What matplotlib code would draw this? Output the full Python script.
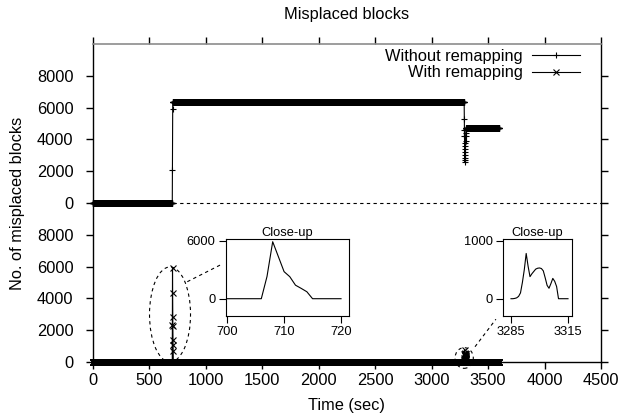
import numpy as np
import matplotlib
matplotlib.use('Agg')
import matplotlib.pyplot as plt
from matplotlib.patches import Ellipse

plt.rcParams['font.family'] = ['Liberation Sans', 'DejaVu Sans']

# ---------------- data ----------------
t_start, t_end = 0, 3600
# "Without remapping" (upper panel): step levels with two transitions
wo_level_before = 0
wo_rise_t = [707, 708]
wo_rise_v = [2100, 5900]
wo_level_mid = 6350
wo_drop_t = [3290, 3291, 3292, 3293, 3294, 3295, 3296, 3297, 3298, 3299,
             3300, 3301, 3302, 3303, 3304, 3305]
wo_drop_v = [5300, 4600, 4200, 3800, 3400, 3000, 2700, 2550, 2800, 3200,
             3600, 3900, 4200, 4400, 4600, 4650]
wo_level_after = 4700

# "With remapping" (lower panel): zero except two short bursts
w_level = 0
w_burst1_t = [706, 707, 708, 709, 710, 711, 712, 713, 714, 715]
w_burst1_v = [0, 2300, 5900, 4350, 2800, 2280, 1400, 1070, 720, 0]
w_burst2_t = list(range(3285, 3316))
w_burst2_v = [0, 0, 5, 15, 40, 100, 280, 500, 780, 560,
              380, 430, 470, 510, 525, 530, 520, 480, 360, 230,
              180, 260, 350, 300, 210, 0, 0, 0, 0, 0, 0]

upper_offset = 10000
x_ticks = [0, 500, 1000, 1500, 2000, 2500, 3000, 3500, 4000, 4500]
panel_ticks = [0, 2000, 4000, 6000, 8000]

# per-second series
t = np.arange(t_start, t_end + 1)
wo = np.full(t.shape, wo_level_mid, dtype=float)
wo[t < wo_rise_t[0]] = wo_level_before
wo[t > wo_drop_t[-1]] = wo_level_after
for tt, vv in zip(wo_rise_t, wo_rise_v):
    wo[t == tt] = vv
for tt, vv in zip(wo_drop_t, wo_drop_v):
    wo[t == tt] = vv

w = np.full(t.shape, w_level, dtype=float)
for tt, vv in zip(w_burst1_t + w_burst2_t, w_burst1_v + w_burst2_v):
    w[t == tt] = vv

# ---------------- figure ----------------
W, H = 621, 419
fig = plt.figure(figsize=(W / 100, H / 100), dpi=100)

def px_rect(l, r, top, bot):
    return [l / W, (H - bot) / H, (r - l) / W, (bot - top) / H]

FS = 11.8
ax = fig.add_axes(px_rect(92.5, 601, 44, 362))
ax.set_xlim(0, 4500)
ax.set_ylim(0, 20000)

dash = (0, (3, 3))
ax.axhline(upper_offset, color='black', lw=0.8, ls=dash, zorder=1)

ax.plot(t, wo + upper_offset, color='black', lw=0.8, marker='+', ms=4.5,
        mew=0.8, label='Without remapping', clip_on=False, zorder=3)
ax.plot(t, w, color='black', lw=0.8, marker='x', ms=4.3, mew=0.8,
        label='With remapping', clip_on=False, zorder=3)

ax.set_xticks(x_ticks)
ax.set_xticklabels([str(v) for v in x_ticks])
yt = panel_ticks + [v + upper_offset for v in panel_ticks]
ax.set_yticks(yt)
ax.set_yticklabels([str(v) for v in panel_ticks] * 2)
ax.tick_params(axis='both', direction='out', length=5, width=1, labelsize=FS,
               top=True, right=True, color='black')
ax.tick_params(axis='y', pad=8.8)
ax.tick_params(axis='x', pad=3)
for s in ['left', 'right', 'bottom']:
    ax.spines[s].set_linewidth(1)
    ax.spines[s].set_color('black')
ax.spines['top'].set_color('0.55')
ax.spines['top'].set_linewidth(1.2)

ax.set_xlabel('Time (sec)', fontsize=FS)
ax.xaxis.set_label_coords(0.5, -0.113)
ax.set_ylabel('No. of misplaced blocks', fontsize=FS)
ax.yaxis.set_label_coords(-0.133, 0.5)
ax.set_title('Misplaced blocks', fontsize=FS, pad=18)

leg = ax.legend(loc='upper right', bbox_to_anchor=(0.9587, 0.985), frameon=False,
                markerfirst=False, handlelength=2.9, handletextpad=0.6,
                borderpad=0, borderaxespad=0, labelspacing=0.1, fontsize=FS,
                numpoints=1)
for h in leg.legend_handles:
    h.set_markersize(5)

# ellipses + connectors (main data coords)
ax.add_patch(Ellipse((686, 2990), 363, 5975, fill=False, ls=dash,
                     lw=0.8, ec='black', clip_on=False, zorder=4))
ax.add_patch(Ellipse((3289, 252), 162, 1300, fill=False, ls=dash,
                     lw=0.8, ec='black', clip_on=False, zorder=4))
ax.plot([839, 1143], [5050, 6145], color='black', lw=0.8, ls=dash, zorder=4)
ax.plot([3385, 3570], [960, 2690], color='black', lw=0.8, ls=dash, zorder=4)

# ---------------- insets ----------------
def style_inset(a):
    for s in a.spines.values():
        s.set_linewidth(0.8)
    a.tick_params(direction='out', length=5, width=0.8, labelsize=9.3, pad=2.5,
                  top=False, right=False)
    a.set_title('Close-up', fontsize=9.3, pad=1.5)

ia = fig.add_axes(px_rect(226, 349, 239, 316))
ia.plot(np.arange(700, 721), w[700:721], color='black', lw=0.8)
ia.set_xlim(699.8, 721.4)
ia.set_ylim(-1790, 6180)
ia.set_xticks([700, 710, 720])
ia.set_yticks([0, 6000])
style_inset(ia)

ib = fig.add_axes(px_rect(503, 572, 239, 316))
ib.plot(w_burst2_t, w_burst2_v, color='black', lw=0.8)
ib.set_xlim(3280.8, 3317.1)
ib.set_ylim(-298, 1029)
ib.set_xticks([3285, 3315])
ib.set_yticks([0, 1000])
style_inset(ib)

fig.savefig('out.png', dpi=100)
